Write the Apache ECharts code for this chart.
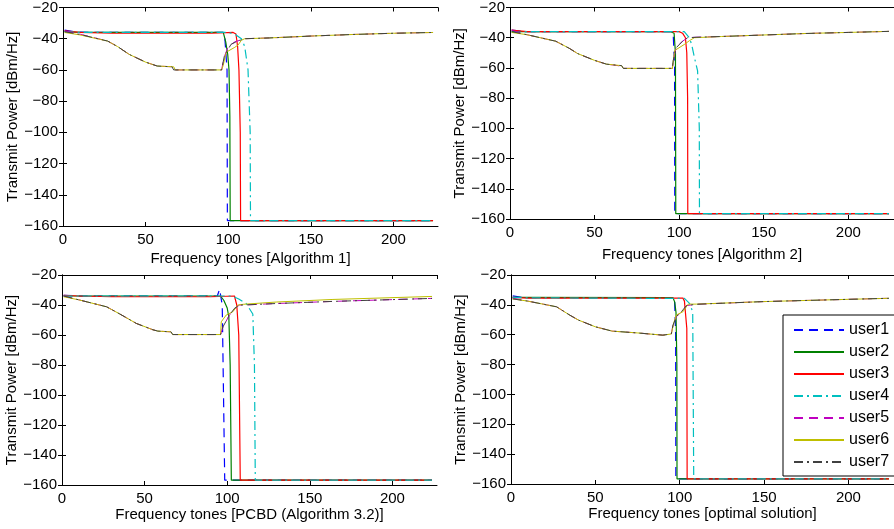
<!DOCTYPE html>
<html><head><meta charset="utf-8">
<script src="https://cdn.jsdelivr.net/npm/echarts@6/dist/echarts.min.js"></script>
<style>html,body{margin:0;padding:0;background:#fff}#c{width:894px;height:529px}</style>
</head><body><div id="c"></div>
<script>
// ---------- data ----------
const userNames = ['user1','user2','user3','user4','user5','user6','user7'];
const xTickValues = [0, 50, 100, 150, 200];
const yTickValues = [-160, -140, -120, -100, -80, -60, -40, -20];
const xTitles = ['Frequency tones [Algorithm 1]', 'Frequency tones [Algorithm 2]',
                 'Frequency tones [PCBD (Algorithm 3.2)]', 'Frequency tones [optimal solution]'];
const yTitle = 'Transmit Power [dBm/Hz]';

// Panel 1: Algorithm 1
const alg1_user1 = [[1,-34.5],[8,-35.8],[20,-36],[97,-36],[98,-40],[99.3,-60],[99.5,-156.5],[224,-156.5]];
const alg1_user2 = [[1,-35.5],[10,-36],[97,-36],[98.5,-42],[99.7,-50],[100.5,-60],[101,-90],[101.2,-156.5],[224,-156.5]];
const alg1_user3 = [[1,-35],[10,-36],[30,-36.5],[90,-36.5],[103,-36],[104.7,-37],[105.7,-45],[106.5,-60],[107.3,-100],[107.5,-156.5],[224,-156.5]];
const alg1_user4 = [[1,-35.5],[10,-36],[100,-36],[104,-37],[108,-40],[110,-45],[112,-60],[113.3,-100],[113.5,-156.5],[224,-156.5]];
const alg1_user5 = [[1,-35],[10,-37],[27,-41.5],[33,-45],[40,-50],[50,-55],[57,-57.5],[58,-58],[66,-58],[67,-60],[96,-60],[97.5,-52],[100,-45],[104,-42],[107,-41],[110,-40],[125,-39.5],[150,-38.3],[175,-37.3],[200,-36.5],[224,-36]];
const alg1_user6 = [[1,-36],[10,-37.5],[27,-41.5],[33,-45],[40,-50],[50,-55],[57,-57.5],[58,-58],[67,-58],[68,-60],[96,-60],[97,-57],[98,-52],[99,-48.5],[100,-48],[104,-45.5],[106,-44],[108,-41],[110,-40],[125,-39.5],[150,-38.3],[175,-37.3],[200,-36.5],[224,-36]];
const alg1_user7 = [[1,-35.5],[10,-37.2],[27,-41.5],[33,-45],[40,-50],[50,-55],[57,-57.5],[58,-58],[66,-58],[67,-60],[96,-60],[97.7,-51],[101.7,-43.6],[106,-41.4],[110,-40],[125,-39.5],[150,-38.3],[175,-37.3],[200,-36.5],[224,-36]];

// Panel 2: Algorithm 2
const alg2_user1 = [[1,-35],[10,-36],[95,-36],[96.5,-38],[97.3,-60],[97.4,-156.5],[224,-156.5]];
const alg2_user2 = [[1,-36],[95,-36],[97,-37],[97.8,-50],[98,-156.5],[224,-156.5]];
const alg2_user3 = [[1,-35],[10,-36],[100,-36],[102,-37],[103.7,-40],[104.5,-50],[105,-80],[105.1,-156.5],[224,-156.5]];
const alg2_user4 = [[1,-36.5],[10,-36],[103,-36],[106,-40],[107.4,-44.5],[109,-53],[110.9,-62],[111.9,-100],[112,-156.5],[224,-156.5]];
const alg2_user5 = [[1,-35],[10,-38],[27,-42.3],[35,-47],[40,-50.5],[50,-55],[57,-57.5],[58,-58.3],[64,-58.5],[65,-60.3],[96,-60.3],[96.5,-55],[98.2,-46.7],[102,-42.3],[105,-40],[110,-39.7],[125,-39.2],[150,-38.2],[175,-37.2],[200,-36.5],[224,-35.8]];
const alg2_user6 = [[1,-36.5],[10,-38],[27,-42.3],[35,-47],[40,-50.5],[50,-55],[57,-57.5],[58,-58.3],[66,-58.5],[67,-60.3],[96,-60.3],[97.3,-48.5],[103,-44.5],[106,-42],[109,-40],[125,-39.2],[150,-38.2],[175,-37.2],[200,-36.5],[224,-35.8]];
const alg2_user7 = [[1,-36],[10,-38],[27,-42.3],[35,-47],[40,-50.5],[50,-55],[57,-57.5],[58,-58.3],[66,-58.5],[67,-60.3],[96,-60.3],[96.5,-55],[98.2,-46.7],[102,-42.3],[105,-40],[110,-39.7],[125,-39.2],[150,-38.2],[175,-37.2],[200,-36.5],[224,-35.8]];

// Panel 3: PCBD (Algorithm 3.2)
const pcbd_user1 = [[1,-33.5],[10,-34],[94,-34],[95.4,-29.5],[97,-40],[98.5,-156.8],[224,-156.8]];
const pcbd_user2 = [[1,-34],[96,-34],[98,-37],[100,-42],[101,-48],[101.8,-80],[102.5,-156.8],[224,-156.8]];
const pcbd_user3 = [[1,-33.5],[10,-34],[30,-34.5],[90,-34.5],[104.4,-34],[105.8,-40],[107,-60],[107.9,-156.8],[224,-156.8]];
const pcbd_user4 = [[1,-34],[103,-34],[107,-36],[111.5,-39],[115.5,-46],[116.5,-80],[117,-156.8],[224,-156.8]];
const pcbd_user5 = [[1,-34],[10,-36.5],[27,-41.2],[35,-46],[45,-52.3],[55,-56.5],[58,-57.4],[66,-57.9],[67,-59.7],[96,-59.7],[97.4,-54.6],[101.4,-46.7],[104.4,-42.3],[107.5,-40],[110,-40],[130,-39],[164,-37.6],[224,-35.6]];
const pcbd_user6 = [[1,-34.5],[10,-36.5],[27,-41.2],[35,-46],[45,-52.3],[55,-56.5],[58,-57.4],[66,-57.9],[67,-59.7],[96,-59.7],[96.4,-51.2],[99.4,-46.7],[103.4,-44.5],[106.5,-40],[110,-39.5],[130,-38],[164,-36.3],[224,-34.3]];
const pcbd_user7 = [[1,-34],[10,-36.5],[27,-41.2],[35,-46],[45,-52.3],[55,-56.5],[58,-57.4],[66,-57.9],[67,-59.7],[96,-59.7],[97.4,-54.6],[101.4,-46.7],[104.4,-42.3],[107.5,-40],[110,-40],[130,-39],[164,-37.6],[224,-35.6]];

// Panel 4: optimal solution
const opt_user1 = [[1,-34],[8,-35.2],[96,-35.2],[97,-38],[97.6,-60],[97.7,-156.6],[224,-156.6]];
const opt_user2 = [[1,-35],[96,-35.2],[97,-38],[97.8,-45],[98.3,-80],[98.4,-156.6],[224,-156.6]];
const opt_user3 = [[1,-35],[10,-35.5],[101.9,-35.5],[102.8,-37.5],[104.2,-55.8],[104.4,-156.6],[224,-156.6]];
const opt_user4 = [[1,-35],[10,-35.3],[102.8,-35.7],[105.8,-39],[107.7,-44.6],[108.3,-156.6],[224,-156.6]];
const opt_user5 = [[1,-35.5],[10,-37.5],[27,-41.3],[35,-47],[40,-50.2],[50,-54.7],[60,-57.6],[75,-58.8],[90,-60.3],[95,-59.5],[96,-53.6],[98,-48],[101,-44.6],[104,-40.5],[110,-39.6],[150,-37.8],[200,-36.3],[224,-35.6]];
const opt_user6 = [[1,-36],[10,-37.5],[27,-41.3],[35,-47],[40,-50.2],[50,-54.7],[60,-57.6],[75,-58.8],[90,-60.3],[95,-59.5],[96.5,-52],[98,-46.8],[101.9,-44.6],[105,-39.5],[110,-39.5],[150,-37.8],[200,-36.3],[224,-35.6]];
const opt_user7 = [[1,-36],[10,-37.5],[27,-41.3],[35,-47],[40,-50.2],[50,-54.7],[60,-57.6],[75,-58.8],[90,-60.3],[95,-59.5],[96,-53.6],[98,-48],[101,-44.6],[104,-40.5],[110,-39.6],[150,-37.8],[200,-36.3],[224,-35.6]];

const panelData = [
  [alg1_user1, alg1_user2, alg1_user3, alg1_user4, alg1_user5, alg1_user6, alg1_user7],
  [alg2_user1, alg2_user2, alg2_user3, alg2_user4, alg2_user5, alg2_user6, alg2_user7],
  [pcbd_user1, pcbd_user2, pcbd_user3, pcbd_user4, pcbd_user5, pcbd_user6, pcbd_user7],
  [opt_user1, opt_user2, opt_user3, opt_user4, opt_user5, opt_user6, opt_user7]
];

// ---------- styles ----------
const FONT = '"Liberation Sans", Arial, Helvetica, sans-serif';
const userStyles = [
  {color:'#0000ff', type:[9,6], width:1.2},
  {color:'#008000', type:'solid', width:1.2},
  {color:'#ff0000', type:'solid', width:1.2},
  {color:'#00bfbf', type:[9,4,2,4], width:1.2},
  {color:'#bf00bf', type:[9,6], width:1},
  {color:'#bfbf00', type:'solid', width:1},
  {color:'#404040', type:[9,4,2,4], width:1}
];
const grids = [
  {left:63,  top:7,   width:375, height:219, nameGapX:25, nameGapY:38},
  {left:510, top:7,   width:389, height:212, nameGapX:28, nameGapY:42},
  {left:62,  top:275, width:375, height:210, nameGapX:15, nameGapY:35},
  {left:511, top:275, width:389, height:209, nameGapX:21, nameGapY:40}
];
const xMax = 227;
const minus = v => String(v).replace('-', '\u2212');

const option = {
  animation:false,
  backgroundColor:'#fff',
  textStyle:{fontFamily:FONT},
  grid: grids.map(g => ({left:g.left, top:g.top, width:g.width, height:g.height, containLabel:false})),
  xAxis: [], yAxis: [], series: [],
  legend: {
    orient:'vertical', left:783, top:315,
    data:userNames,
    itemWidth:50, itemHeight:14, itemGap:6,
    padding:[7,10,6,10],
    backgroundColor:'#fff', borderColor:'#000', borderWidth:1, borderRadius:0,
    itemStyle:{opacity:0},
    textStyle:{fontFamily:FONT, fontSize:16, color:'#000', padding:[0,0,0,0]},
    selectedMode:false
  }
};

const axisCommon = {
  axisLine:{show:true, lineStyle:{color:'#000', width:1}},
  axisTick:{show:true, inside:true, length:4, lineStyle:{color:'#000'}},
  splitLine:{show:false}
};

grids.forEach((g, i) => {
  // bottom x
  option.xAxis.push(Object.assign({}, axisCommon, {
    type:'value', gridIndex:i, position:'bottom', min:xTickValues[0], max:xMax,
    interval:xTickValues[1]-xTickValues[0],
    axisLabel:{show:true, fontSize:15, color:'#000', fontFamily:FONT, margin:6, showMaxLabel:false},
    name:xTitles[i], nameLocation:'middle', nameGap:g.nameGapX,
    nameTextStyle:{fontSize:15, color:'#000', fontFamily:FONT}
  }));
  // top x (ticks only)
  option.xAxis.push(Object.assign({}, axisCommon, {
    type:'value', gridIndex:i, position:'top', min:xTickValues[0], max:xMax,
    interval:xTickValues[1]-xTickValues[0], axisLabel:{show:false}
  }));
  // left y
  option.yAxis.push(Object.assign({}, axisCommon, {
    type:'value', gridIndex:i, position:'left',
    min:yTickValues[0], max:yTickValues[yTickValues.length-1],
    interval:yTickValues[1]-yTickValues[0],
    axisLabel:{show:true, fontSize:15, color:'#000', fontFamily:FONT, margin:5, formatter:minus},
    name:yTitle, nameLocation:'middle', nameGap:g.nameGapY, nameRotate:90,
    nameTextStyle:{fontSize:15, color:'#000', fontFamily:FONT}
  }));
  // right y (ticks only)
  option.yAxis.push(Object.assign({}, axisCommon, {
    type:'value', gridIndex:i, position:'right',
    min:yTickValues[0], max:yTickValues[yTickValues.length-1],
    interval:yTickValues[1]-yTickValues[0], axisLabel:{show:false}
  }));
  panelData[i].forEach((d, u) => {
    const s = userStyles[u];
    option.series.push({
      type:'line', name:userNames[u], data:d,
      xAxisIndex:i*2, yAxisIndex:i*2,
      symbol:'none', showSymbol:false, silent:true,
      color:s.color,
      lineStyle:{color:s.color, type:s.type, width:s.width}
    });
  });
});

const chart = echarts.init(document.getElementById('c'), null, {renderer:'canvas'});
chart.setOption(option);
</script>
</body></html>
